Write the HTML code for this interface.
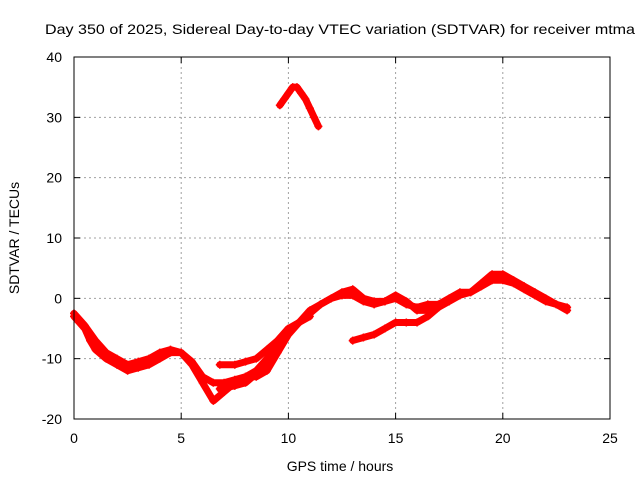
<!DOCTYPE html>
<html><head><meta charset="utf-8"><style>
body{margin:0;background:#fff}
svg text{font-family:"Liberation Sans",sans-serif;font-size:14px;fill:#000}
</style></head><body>
<svg id="chart" width="640" height="480" xmlns="http://www.w3.org/2000/svg">
<text x="340" y="34" text-anchor="middle" textLength="590" lengthAdjust="spacingAndGlyphs">Day 350 of 2025, Sidereal Day-to-day VTEC variation (SDTVAR) for receiver mtma</text>
<g id="grid"></g>
<g id="axes"></g>
<g id="marks"></g>
<rect x="74" y="57" width="536" height="362" fill="none" stroke="#000" stroke-width="1"/>
<text transform="translate(19,238) rotate(-90)" text-anchor="middle">SDTVAR / TECUs</text>
<text x="340" y="471" text-anchor="middle">GPS time / hours</text>
</svg>
<script>
const xTicks=[0,5,10,15,20,25];
const yTicks=[-20,-10,0,10,20,30,40];
const trackA=[[0,-3],[0.25,-4],[0.5,-5],[0.75,-7],[1,-8.5],[1.5,-10],[2,-11],[2.5,-12],[3,-11.5],[3.5,-11],[4,-10],[4.5,-9],[5,-9],[5.5,-10.5],[6,-13],[6.5,-14],[7,-14],[7.5,-13.5],[8,-13],[8.5,-12],[9,-10],[9.5,-7],[10,-5],[10.5,-4],[11,-2.5],[11.5,-1],[12,0],[12.5,0.5],[13,0.5],[13.5,-0.5],[14,-1],[14.5,-0.5],[15,0],[15.5,-1],[16,-1.5],[16.5,-1],[17,-1],[17.5,0],[18,1],[18.5,1],[19,2],[19.5,3],[20,3],[20.5,2.5],[21,1.5],[21.5,0.5],[22,-0.5],[22.5,-1],[23,-1.5]];
const trackB=[[0,-2.5],[0.5,-4.5],[1,-7],[1.5,-9],[2,-10],[2.5,-11],[3,-10.5],[3.5,-10],[4,-9],[4.5,-8.5],[5,-9],[5.5,-11],[6,-14],[6.5,-17],[7,-15.5],[7.5,-14],[8,-13],[8.5,-13],[9,-12],[9.5,-9],[10,-6],[10.5,-4],[11,-2],[11.5,-1],[12,0],[12.5,1],[13,1.5],[13.5,0],[14,-0.5],[14.5,-0.5],[15,0.5],[15.5,-0.5],[16,-2],[16.5,-2],[17,-1.5],[17.5,-0.5],[18,0.5],[18.5,1],[19,2.5],[19.5,4],[20,4],[20.5,3],[21,2],[21.5,1],[22,0],[22.5,-1],[23,-2]];
const trackC=[[13,-7],[13.5,-6.5],[14,-6],[14.5,-5],[15,-4],[15.5,-4],[16,-4],[16.5,-3],[17,-1.5]];
const trackD=[[6.8,-11],[7.5,-11],[8,-10.5],[8.5,-10],[9,-8.5],[9.5,-7],[10,-5]];
const trackE=[[6.8,-15],[7.5,-14.5],[8,-14],[8.5,-12.5],[9,-11],[9.5,-8.5],[10,-5.5],[10.5,-4],[11,-3]];
const trackF=[[9.6,32],[9.8,33],[10,34],[10.2,35],[10.4,35],[10.6,34],[10.8,33],[11,31.5],[11.2,30],[11.4,28.5]];
const tracks=[trackA,trackB,trackC,trackD,trackE,trackF];
const X=v=>74+v*536/25, Y=v=>419-(v+20)*362/60;
const NS="http://www.w3.org/2000/svg";
const grid=document.getElementById('grid'),axes=document.getElementById('axes'),marks=document.getElementById('marks');
function mk(t,a,p){const e=document.createElementNS(NS,t);for(const k in a)e.setAttribute(k,a[k]);p.appendChild(e);return e;}
xTicks.forEach(t=>{
 if(t>0&&t<25){const g=mk('line',{x1:X(t),x2:X(t),y1:57,y2:419,stroke:'#a0a0a0','stroke-dasharray':'2,3'},grid);
 
 }
 mk('line',{x1:X(t),x2:X(t),y1:419,y2:413,stroke:'#000'},axes);
 mk('line',{x1:X(t),x2:X(t),y1:57,y2:63,stroke:'#000'},axes);
 const l=mk('text',{x:X(t),y:443,'text-anchor':'middle'},axes);l.textContent=t;
 
 
});
yTicks.forEach(t=>{
 if(t>-20&&t<40){const g=mk('line',{x1:74,x2:610,y1:Y(t),y2:Y(t),stroke:'#a0a0a0','stroke-dasharray':'2,3'},grid);
 
 }
 mk('line',{x1:74,x2:80,y1:Y(t),y2:Y(t),stroke:'#000'},axes);
 mk('line',{x1:604,x2:610,y1:Y(t),y2:Y(t),stroke:'#000'},axes);
 const l=mk('text',{x:62,y:Y(t)+5,'text-anchor':'end'},axes);l.textContent=t;
 
 
});
tracks.forEach(tr=>{
 const pl=mk('polyline',{points:tr.map(p=>X(p[0])+','+Y(p[1])).join(' '),fill:'none',stroke:'#f00','stroke-width':7,'stroke-linejoin':'round','stroke-linecap':'round'},marks);
 
 
 tr.forEach(p=>{
  const x=X(p[0]),y=Y(p[1]);
  const m=mk('path',{d:`M${x-4},${y}H${x+4}M${x},${y-4}V${y+4}`,stroke:'#f00','stroke-width':1.5},marks);
  
  
 });
});
</script>
</body></html>
